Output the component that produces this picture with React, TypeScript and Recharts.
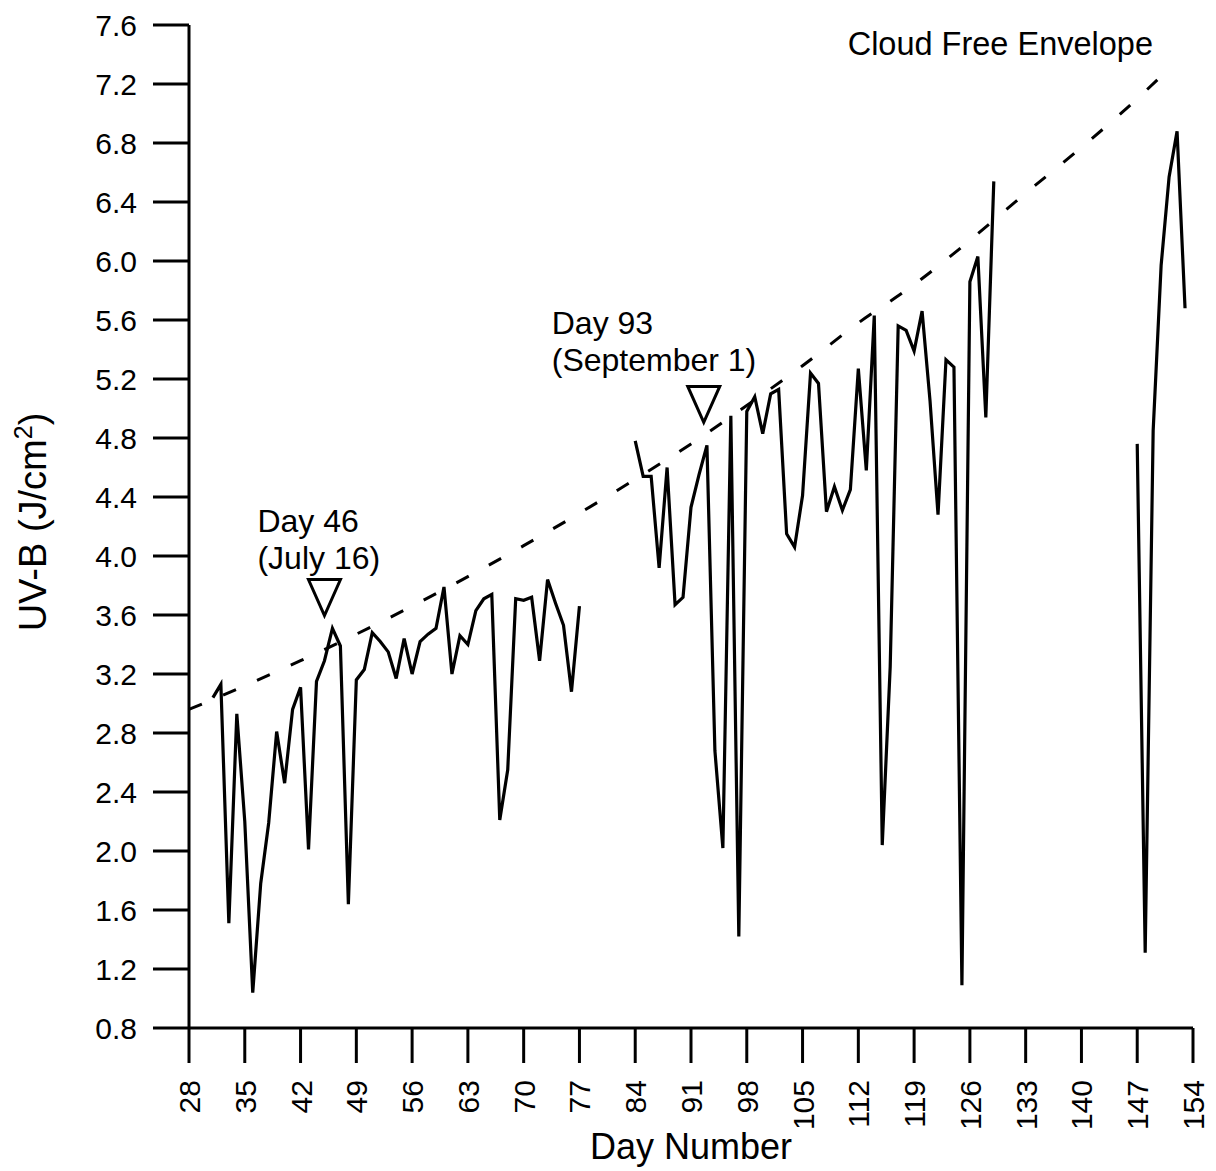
import React from "react";
import { LineChart, Line, XAxis, YAxis, ReferenceDot, Label } from "recharts";

const FONT = '"Liberation Sans", Arial, Helvetica, sans-serif';

// daily UV-B totals, each run starts on the given day number
const run1Start = 31;
const run1 = [
  3.04, 3.13, 1.51, 2.93, 2.2, 1.04, 1.78, 2.19, 2.81, 2.46,
  2.96, 3.11, 2.01, 3.15, 3.29, 3.51, 3.39, 1.64, 3.16, 3.23,
  3.48, 3.42, 3.35, 3.17, 3.44, 3.2, 3.42, 3.47, 3.51, 3.79,
  3.2, 3.46, 3.4, 3.63, 3.71, 3.74, 2.21, 2.55, 3.71, 3.7,
  3.72, 3.29, 3.84, 3.68, 3.53, 3.08, 3.66,
];
const run2Start = 84;
const run2 = [
  4.78, 4.54, 4.54, 3.92, 4.6, 3.67, 3.72, 4.33, 4.55, 4.75,
  2.68, 2.02, 4.95, 1.42, 4.98, 5.08, 4.83, 5.1, 5.13, 4.15,
  4.06, 4.41, 5.24, 5.17, 4.3, 4.47, 4.31, 4.45, 5.27, 4.58,
  5.63, 2.04, 3.25, 5.56, 5.53, 5.39, 5.66, 5.05, 4.28, 5.33,
  5.28, 1.09, 5.86, 6.03, 4.94, 6.54,
];
const run3Start = 147;
const run3 = [4.76, 1.31, 4.85, 5.97, 6.57, 6.88, 5.68];

// cloud free envelope
const envelopeDays = [28, 35, 42, 49, 56, 63, 70, 77, 84, 91, 98, 105, 112, 119, 126, 133, 140, 147, 151.5];
const envelopeUvb = [2.96, 3.12, 3.29, 3.47, 3.66, 3.86, 4.07, 4.29, 4.52, 4.76, 5.02, 5.29, 5.58, 5.84, 6.14, 6.46, 6.77, 7.1, 7.33];

const xTicks = [28, 35, 42, 49, 56, 63, 70, 77, 84, 91, 98, 105, 112, 119, 126, 133, 140, 147, 154];
const yTicks = [0.8, 1.2, 1.6, 2.0, 2.4, 2.8, 3.2, 3.6, 4.0, 4.4, 4.8, 5.2, 5.6, 6.0, 6.4, 6.8, 7.2, 7.6];

const uvbRows: { day: number; uvb: number | null }[] = [];
[[run1Start, run1], [run2Start, run2], [run3Start, run3]].forEach(([start, vals]: any, i) => {
  if (i > 0) uvbRows.push({ day: start - 1, uvb: null }); // gap between runs
  vals.forEach((v: number, k: number) => uvbRows.push({ day: start + k, uvb: v }));
});

const envRows = envelopeDays.map((d, i) => ({ day: d, env: envelopeUvb[i] }));

const XTick = ({ x, y, payload }: any) => (
  <g transform={`translate(${x + 11},${y + 17})`}>
    <text transform="rotate(-90)" textAnchor="end" fontSize={30} fontFamily={FONT} fill="#000">
      {payload.value}
    </text>
  </g>
);

const marker = (lines: string[], dx: number, dy: number) => (props: any) => {
  const { cx, cy } = props;
  return (
    <g>
      <polygon
        points={`${cx - 16},${cy} ${cx + 16},${cy} ${cx},${cy + 36}`}
        fill="none"
        stroke="#000"
        strokeWidth={3}
        strokeLinejoin="miter"
      />
      <text x={cx + dx} y={cy + dy} fontSize={32} fontFamily={FONT} fill="#000">
        <tspan x={cx + dx}>{lines[0]}</tspan>
        <tspan x={cx + dx} dy={37}>{lines[1]}</tspan>
      </text>
    </g>
  );
};

const envelopeText = (props: any) => (
  <text x={props.cx - 178} y={props.cy + 30} fontSize={32.5} fontFamily={FONT} fill="#000">
    Cloud Free Envelope
  </text>
);

const YTitle = () => (
  <text transform="translate(46,522) rotate(-90)" textAnchor="middle" fontSize={38} fontFamily={FONT} fill="#000">
    UV-B (J/cm<tspan dy={-14} fontSize={25}>2</tspan>
    <tspan dy={14}>)</tspan>
  </text>
);

export default function App() {
  return (
    <div style={{ position: "absolute", left: 0, top: 0, background: "#fff" }}>
      <LineChart width={1216} height={1171} margin={{ top: 25, right: 23, bottom: 0, left: 0 }}>
        <XAxis
          type="number"
          dataKey="day"
          domain={[28, 154]}
          ticks={xTicks}
          interval={0}
          height={143}
          tickSize={35}
          tickMargin={0}
          axisLine={{ stroke: "#000", strokeWidth: 3 }}
          tickLine={{ stroke: "#000", strokeWidth: 3 }}
          tick={<XTick />}
          allowDataOverflow
        >
          <Label
            content={() => (
              <text x={691} y={1159} textAnchor="middle" fontSize={36} fontFamily={FONT} fill="#000">
                Day Number
              </text>
            )}
          />
        </XAxis>
        <YAxis
          type="number"
          domain={[0.8, 7.6]}
          ticks={yTicks}
          interval={0}
          width={189}
          tickSize={36}
          tickMargin={16}
          axisLine={{ stroke: "#000", strokeWidth: 3 }}
          tickLine={{ stroke: "#000", strokeWidth: 3 }}
          tick={{ fill: "#000", fontSize: 30, fontFamily: FONT }}
          tickFormatter={(v: number) => v.toFixed(1)}
          allowDataOverflow
        >
          <Label content={() => <YTitle />} />
        </YAxis>
        <Line
          data={envRows}
          dataKey="env"
          type="monotone"
          stroke="#000"
          strokeWidth={3}
          strokeDasharray="14 23"
          dot={false}
          activeDot={false}
          isAnimationActive={false}
        />
        <Line
          data={uvbRows}
          dataKey="uvb"
          type="linear"
          stroke="#000"
          strokeWidth={3.2}
          strokeLinejoin="miter"
          dot={false}
          activeDot={false}
          connectNulls={false}
          isAnimationActive={false}
        />
        <ReferenceDot x={45} y={3.84} r={0} ifOverflow="visible" shape={marker(["Day 46", "(July 16)"], -67, -48)} />
        <ReferenceDot
          x={92.6}
          y={5.15}
          r={0}
          ifOverflow="visible"
          shape={marker(["Day 93", "(September 1)"], -152, -52)}
        />
        <ReferenceDot x={133} y={7.6} r={0} ifOverflow="visible" shape={envelopeText} />
      </LineChart>
    </div>
  );
}
